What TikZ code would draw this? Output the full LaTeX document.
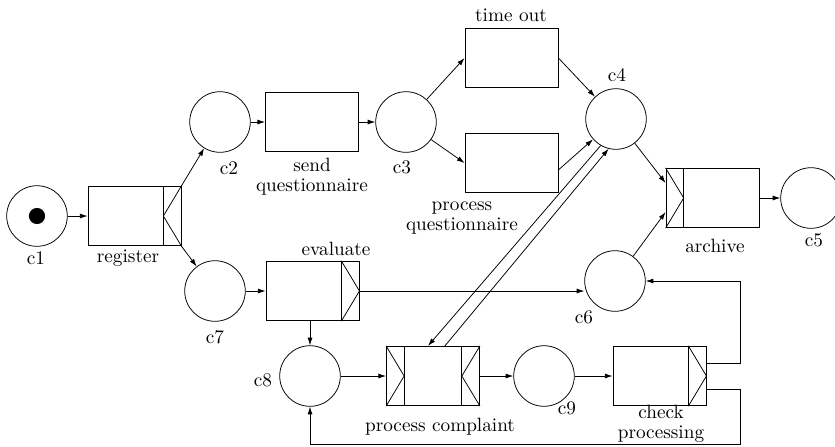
\documentclass[tikz,border=0pt]{standalone}
\usetikzlibrary{arrows.meta}

\tikzset{
  place/.style={circle, draw, minimum size=31.5pt, inner sep=0pt},
  task/.style={rectangle, draw, minimum width=48.4pt, minimum height=30.9pt, inner sep=0pt},
  lab/.style={align=center, font=\fontsize{10}{10.5}\selectfont, inner sep=0pt}
}

\begin{document}
\begin{tikzpicture}[x=0.52pt, y=-0.52pt, >={Latex[length=4pt,width=2.6pt]}]
		\useasboundingbox (0,0) rectangle (835,446);

		% places
		\draw (37,216) node[place] (c1) {};
		\draw (220,122) node[place] (c2) {};
		\draw (406,122) node[place] (c3) {};
		\draw (616,119) node[place] (c4) {};
		\draw (811,198) node[place] (c5) {};
		\draw (615,281) node[place] (c6) {};
		\draw (215,291) node[place] (c7) {};
		\draw (310,376) node[place] (c8) {};
		\draw (544,376) node[place] (c9) {};
		\fill (c1.center) circle (4.2pt);

		% tasks
		\draw (134.5,216) node[task] (register) {};
		\draw (312,122) node[task] (send) {};
		\draw (511.5,58) node[task] (timeout) {};
		\draw (511.5,163) node[task] (procq) {};
		\draw (712.5,198) node[task] (archive) {};
		\draw (312.5,291) node[task] (evaluate) {};
		\draw (433,376) node[task] (procc) {};
		\draw (659.5,376) node[task] (check) {};

		% split and join marks
		\draw ([xshift=-9.4pt]register.north east) -- ([xshift=-9.4pt]register.south east);
		\draw (register.north east) -- ([xshift=-9.4pt]register.east) -- (register.south east);
		\draw ([xshift=-9.4pt]evaluate.north east) -- ([xshift=-9.4pt]evaluate.south east);
		\draw ([xshift=-9.4pt]evaluate.north east) -- (evaluate.east) -- ([xshift=-9.4pt]evaluate.south east);
		\draw ([xshift=9.4pt]archive.north west) -- ([xshift=9.4pt]archive.south west);
		\draw (archive.north west) -- ([xshift=9.4pt]archive.west) -- (archive.south west);
		\draw ([xshift=9.4pt]procc.north west) -- ([xshift=9.4pt]procc.south west);
		\draw (procc.north west) -- ([xshift=9.4pt]procc.west) -- (procc.south west);
		\draw ([xshift=-9.4pt]procc.north east) -- ([xshift=-9.4pt]procc.south east);
		\draw (procc.north east) -- ([xshift=-9.4pt]procc.east) -- (procc.south east);
		\draw ([xshift=-9.4pt]check.north east) -- ([xshift=-9.4pt]check.south east);
		\draw ([xshift=-9.4pt]check.north east) -- (check.east) -- ([xshift=-9.4pt]check.south east);

		% labels
		\draw (36,258) node[lab] (c1lab) {c1};
		\draw (128,258) node[lab] (registerlab) {register};
		\draw (229,168) node[lab] (c2lab) {c2};
		\draw (312,177) node[lab] (sendlab) {send\\questionnaire};
		\draw (402,167) node[lab] (c3lab) {c3};
		\draw (511,15) node[lab] (timeoutlab) {time out};
		\draw (617,75) node[lab] (c4lab) {c4};
		\draw (462,218) node[lab] (procqlab) {process\\questionnaire};
		\draw (715,246) node[lab] (archivelab) {archive};
		\draw (814,240) node[lab] (c5lab) {c5};
		\draw (336,249) node[lab] (evaluatelab) {evaluate};
		\draw (584,317) node[lab] (c6lab) {c6};
		\draw (215,337) node[lab] (c7lab) {c7};
		\draw (263,380) node[lab] (c8lab) {c8};
		\draw (440,427) node[lab] (procclab) {process complaint};
		\draw (567,408) node[lab] (c9lab) {c9};
		\draw (661,424) node[lab] (checklab) {check\\processing};

		% arcs
		\draw [->] (c1) -- (register);
		\draw [->] (register.north east) -- (c2);
		\draw [->] (register.south east) -- (c7);
		\draw [->] (c2) -- (send);
		\draw [->] (send) -- (c3);
		\draw [->] (c3) -- (timeout.west);
		\draw [->] (c3) -- (procq.west);
		\draw [->] (timeout.east) -- (c4);
		\draw [->] ([yshift=-3.6pt]procq.east) -- (c4);
		\draw [->] (c4) -- ([yshift=7.8pt]archive.west);
		\draw [->] (c6) -- ([yshift=-7.3pt]archive.west);
		\draw [->] (archive) -- (c5);
		\draw [->] (c7) -- (evaluate);
		\draw [->] (evaluate.east) -- (evaluate.east -| c6.west);
		\draw [->] (c8.north |- evaluate.south) -- (c8);
		\draw [->] (c8) -- (procc);
		\draw [->] (procc) -- (c9);
		\draw [->] (c9) -- (check);
		\draw [->] (c4.240) -- ([xshift=-2.6pt]procc.north);
		\draw [->] ([xshift=6.2pt]procc.north) -- (c4.256);

		\coordinate (back) at (740,444);
		\draw [->] ([yshift=6.8pt]check.east) -| (back |- c6.east) -- (c6.east);
		\draw [->] ([yshift=-6.8pt]check.east) -| (back) -| (c8.south);
	\end{tikzpicture}
\end{document}
